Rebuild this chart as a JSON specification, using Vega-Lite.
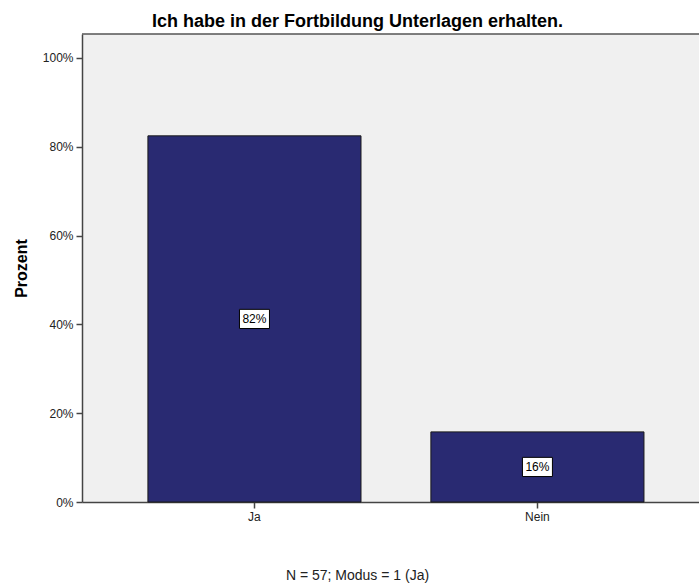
{
  "$schema": "https://vega.github.io/schema/vega-lite/v6.json",
  "width": 617,
  "height": 468,
  "autosize": {"type": "none"},
  "padding": {"left": 82, "top": 34, "right": 0, "bottom": 84},
  "background": "white",
  "config": {
    "font": "Liberation Sans",
    "view": {"stroke": null, "fill": "#f0f0f0"}
  },
  "title": {
    "text": "Ich habe in der Fortbildung Unterlagen erhalten.",
    "font": "Liberation Sans",
    "fontSize": 18,
    "fontWeight": "bold",
    "color": "#000000",
    "anchor": "middle",
    "frame": "group",
    "dx": -33,
    "offset": 2
  },
  "data": {
    "values": [
      {"antwort": "Ja", "prozent": 82.46, "label": "82%"},
      {"antwort": "Nein", "prozent": 15.79, "label": "16%"}
    ]
  },
  "layer": [
    {
      "mark": {"type": "bar", "fill": "#292a72", "stroke": "#1a1a1a", "strokeWidth": 1},
      "encoding": {
        "x": {
          "field": "antwort",
          "type": "nominal",
          "sort": null,
          "scale": {"paddingInner": 0.247, "paddingOuter": 0.2137, "align": 0.545},
          "axis": {
            "title": "N = 57; Modus = 1 (Ja)",
            "titleFontSize": 14,
            "titleFontWeight": "normal",
            "titleColor": "#222222",
            "titleX": 275,
            "titleY": 73,
            "titleAlign": "center",
            "titleBaseline": "middle",
            "labelAngle": 0,
            "labelFontSize": 12,
            "labelColor": "#222222",
            "labelPadding": 3,
            "tickSize": 6,
            "tickColor": "#444444",
            "tickWidth": 1.5,
            "domainColor": "#444444",
            "domainWidth": 1.5
          }
        },
        "y": {
          "field": "prozent",
          "type": "quantitative",
          "scale": {"domain": [0, 105.4], "nice": false, "zero": true},
          "axis": {
            "values": [0, 20, 40, 60, 80, 100],
            "labelExpr": "datum.value + '%'",
            "grid": false,
            "title": "Prozent",
            "titleFontSize": 16,
            "titleFontWeight": "bold",
            "titleColor": "#000000",
            "titleX": -61,
            "titleY": 234,
            "titleAngle": 270,
            "titleAlign": "center",
            "titleBaseline": "middle",
            "labelFontSize": 12,
            "labelColor": "#222222",
            "labelPadding": 3,
            "tickSize": 6,
            "tickColor": "#444444",
            "tickWidth": 1.5,
            "domainColor": "#444444",
            "domainWidth": 1.5
          }
        }
      }
    },
    {
      "data": {"values": [{}]},
      "mark": {"type": "rule", "color": "#555555", "strokeWidth": 1.5},
      "encoding": {
        "y": {"datum": 105.4, "type": "quantitative"}
      }
    },
    {
      "transform": [{"calculate": "datum.prozent / 2", "as": "mitte"}],
      "mark": {
        "type": "point",
        "shape": "M-1,-0.64L1,-0.64L1,0.64L-1,0.64Z",
        "size": 900,
        "filled": true,
        "fill": "#ffffff",
        "stroke": "#000000",
        "strokeWidth": 1,
        "opacity": 1
      },
      "encoding": {
        "x": {"field": "antwort", "type": "nominal", "sort": null},
        "y": {"field": "mitte", "type": "quantitative"}
      }
    },
    {
      "transform": [{"calculate": "datum.prozent / 2", "as": "mitte"}],
      "mark": {"type": "text", "fontSize": 12, "color": "#000000", "align": "center", "baseline": "middle", "dy": 0.5},
      "encoding": {
        "x": {"field": "antwort", "type": "nominal", "sort": null},
        "y": {"field": "mitte", "type": "quantitative"},
        "text": {"field": "label"}
      }
    }
  ]
}
